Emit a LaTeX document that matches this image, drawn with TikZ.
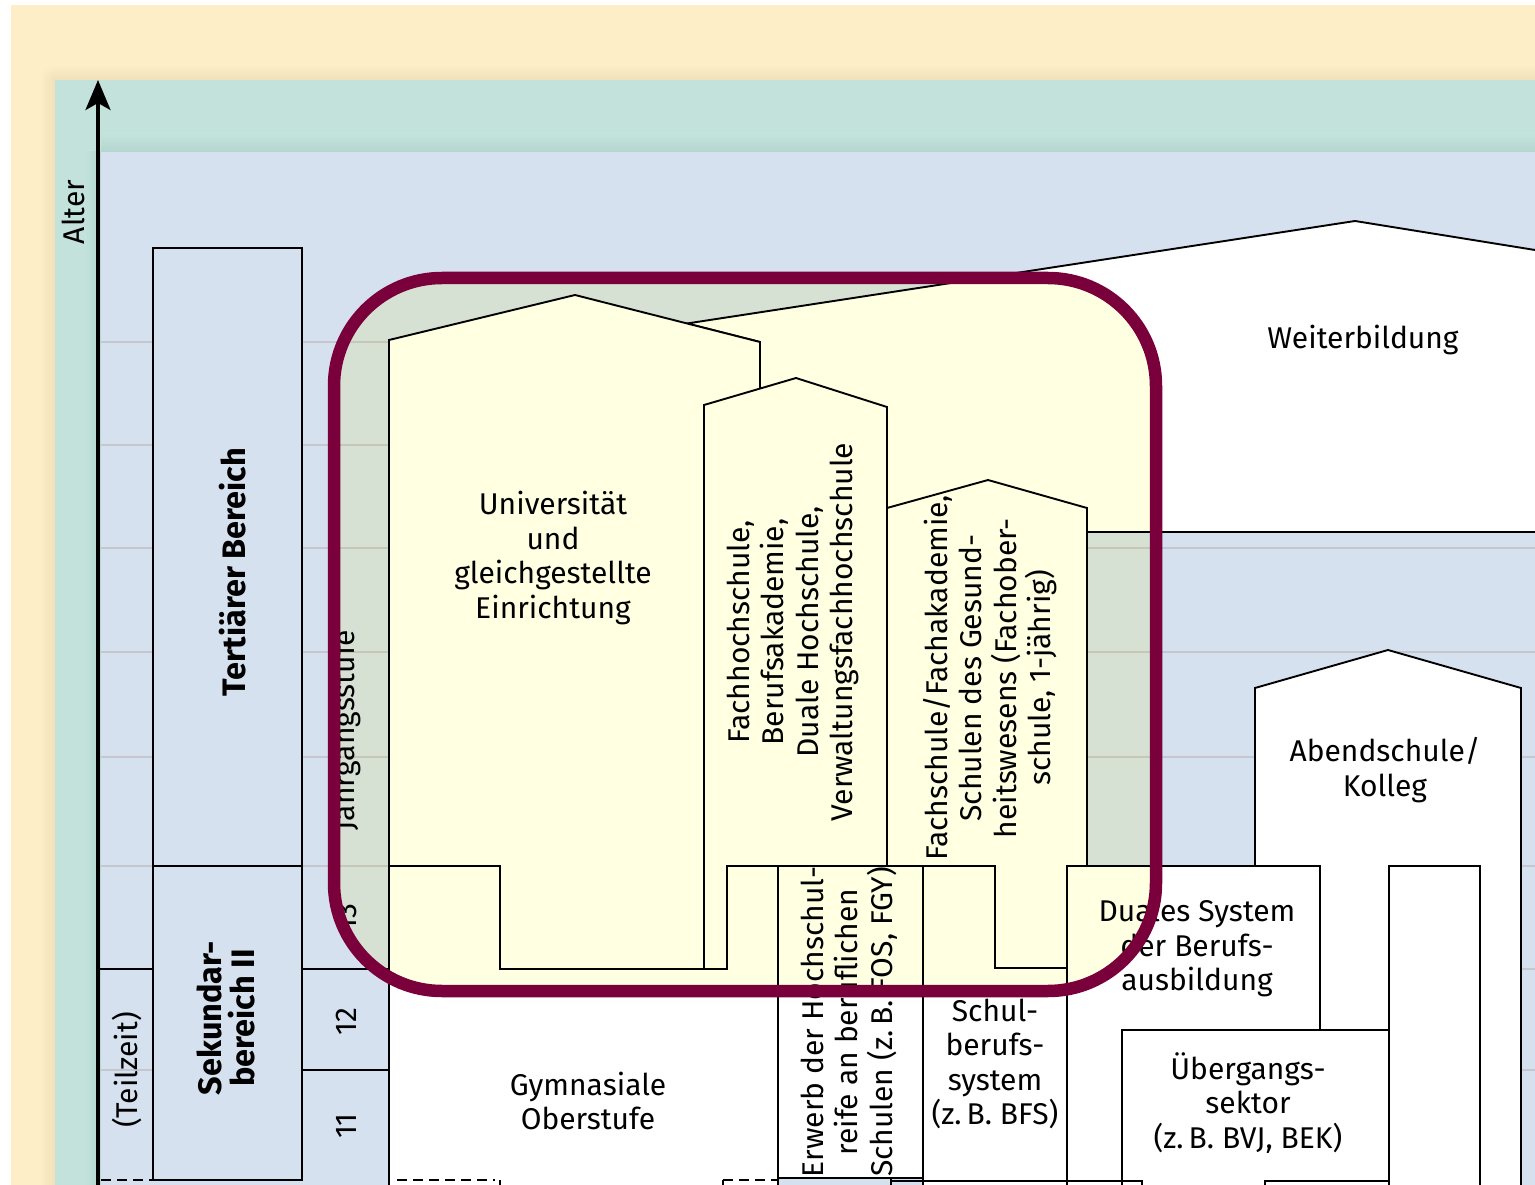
\documentclass[tikz,border=0pt]{standalone}
\usepackage{fontspec}
\setmainfont{Fira Sans}
\usetikzlibrary{arrows.meta}
\definecolor{cream}{RGB}{253,238,199}
\definecolor{creamdark}{RGB}{240,224,185}
\definecolor{tealbg}{RGB}{195,226,220}
\definecolor{tealdark}{RGB}{180,214,207}
\definecolor{bluebg}{RGB}{214,225,240}
\definecolor{gridc}{RGB}{198,199,206}
\definecolor{maroon}{RGB}{122,0,60}
\definecolor{hl}{RGB}{255,255,226}
\begin{document}
\begin{tikzpicture}[x=1pt,y=-1pt,
  box/.style={draw=black,line width=1.9pt,fill=white,line join=miter},
  edge/.style={draw=black,line width=1.9pt},
  lbl/.style={font=\fontsize{30}{34.5}\selectfont,align=center,inner sep=0pt,text=black},
  blbl/.style={font=\fontsize{32.5}{33}\selectfont\bfseries,align=center,inner sep=0pt,text=black},
  gridline/.style={draw=gridc,line width=2pt}]
\useasboundingbox (0,0) rectangle (1535,1185);
\clip (0,0) rectangle (1535,1185);
% backgrounds
\fill[white] (0,0) rectangle (1535,1185);
\fill[cream] (11,5) rectangle (1535,1185);
\shade[left color=cream,right color=creamdark] (40,80) rectangle (55,1185);
\shade[top color=cream,bottom color=creamdark] (55,65) rectangle (1535,80);
\begin{scope}
  \clip (40,65) rectangle (55,80);
  \shade[inner color=creamdark,outer color=cream] (55,80) circle[radius=15];
\end{scope}
\fill[tealbg] (55,80) rectangle (1535,1185);
\shade[top color=tealbg,bottom color=tealdark] (101,134) rectangle (1535,152);
\shade[left color=tealbg,right color=tealdark] (85,152) rectangle (101,1185);
\fill[bluebg] (101,152) rectangle (1535,1185);
% grid
\foreach \yy in {342,445,548,652,757,866,969,1070}
  \draw[gridline] (101,\yy) -- (1535,\yy);
% left frame
\draw[edge,fill=bluebg] (153,248) rectangle (302,866);
\draw[edge,fill=bluebg] (153,866) rectangle (302,1180);
\draw[edge] (98,969) -- (153,969);
\draw[edge] (302,969) -- (389,969);
\draw[edge] (302,1070) -- (389,1070);
% boxes
\draw[box] (687,323.5) -- (1355,221) -- (1545,251.6) -- (1545,532) -- (760,532) -- (760,342) -- cycle;
\draw[box] (1255,1200) -- (1255,688) -- (1388,650) -- (1521,688) -- (1521,1200) -- cycle;
\draw[box] (923,866) rectangle (1067,1200);
\draw[box] (778,866) rectangle (923,1178);
\draw[box] (389,1200) -- (389,866) -- (500,866) -- (500,969) -- (727,969) -- (727,866) -- (778,866) -- (778,1200);
\fill[white] (391,1178) rectangle (776,1200);
\draw[box] (389,866) -- (389,340) -- (575,295) -- (760,342) -- (760,600) -- (704,600) -- (704,969) -- (500,969) -- (500,866) -- cycle;
\draw[box] (704,969) -- (704,405) -- (796,378) -- (887,407) -- (887,866) -- (727,866) -- (727,969) -- cycle;
\draw[box] (887,866) -- (887,508) -- (988,480) -- (1087,508) -- (1087,866) -- (1067,866) -- (1067,968) -- (995,968) -- (995,866) -- cycle;
\draw[box] (1067,866) rectangle (1320,1200);
\draw[box] (1122,1030) rectangle (1389,1200);
\draw[box] (1389,866) rectangle (1480,1200);
% bottom row edges
\draw[edge,dash pattern=on 10pt off 6pt] (101,1180) -- (153,1180);
\draw[edge,dash pattern=on 10pt off 6pt] (397,1180) -- (495,1180);
\draw[edge] (500,1180) -- (500,1192);
\draw[edge,dash pattern=on 10pt off 6pt] (723,1180) -- (778,1180);
\draw[edge] (723,1180) -- (723,1192);
\draw[edge] (891,1178) -- (891,1192);
\draw[edge] (891,1181) -- (1142,1181) -- (1142,1192);
\draw[edge] (1265,1192) -- (1265,1181) -- (1389,1181);
% axis
\draw[line width=3.5pt,-{Stealth[length=30pt,width=25pt,inset=7pt]}] (98,1200) -- (98,80);
% labels
\node[lbl,rotate=90] (alter) at (73,212) {Alter};
\node[blbl,rotate=90] (tert) at (233,572) {Tertiärer Bereich};
\node[blbl,rotate=90] (sek) at (226,1018) {Sekundar-\\bereich II};
\node[lbl,rotate=90] (teil) at (127,1070) {(Teilzeit)};
\node[lbl,rotate=90] (jahr) at (346,730) {Jahrgangsstufe};
\node[lbl,rotate=90] (j13) at (346,918) {13};
\node[lbl,rotate=90] (j12) at (346,1022) {12};
\node[lbl,rotate=90] (j11) at (346,1126) {11};
\node[lbl] (uni) at (553,558) {Universität\\und\\gleichgestellte\\Einrichtung};
\node[lbl,rotate=90] (fh) at (793,632) {Fachhochschule,\\Berufsakademie,\\Duale Hochschule,\\Verwaltungsfachhochschule};
\node[lbl,rotate=90] (fs) at (990,678) {Fachschule/Fachakademie,\\Schulen des Gesund-\\heitswesens (Fachober-\\schule, 1-jährig)};
\node[lbl] (wb) at (1363,340) {Weiterbildung};
\node[lbl] (abend) at (1385,770) {Abendschule/\\Kolleg};
\node[lbl] (dual) at (1197,948) {Duales System\\der Berufs-\\ausbildung};
\node[lbl] (ueb) at (1248,1103) {Übergangs-\\sektor\\(z.\,B. BVJ, BEK)};
\node[lbl] (sbs) at (995,1064) {Schul-\\berufs-\\system\\(z.\,B. BFS)};
\node[lbl,rotate=90] (erw) at (849,1022) {Erwerb der Hochschul-\\reife an beruflichen\\Schulen (z.\,B. FOS, FGY)};
\node[lbl] (gym) at (588,1101) {Gymnasiale\\Oberstufe};
% highlight
\fill[hl,blend mode=multiply,rounded corners=108pt] (334,278) rectangle (1156,991);
\draw[maroon,line width=12.5pt,rounded corners=108pt] (334,278) rectangle (1156,991);
\end{tikzpicture}
\end{document}
